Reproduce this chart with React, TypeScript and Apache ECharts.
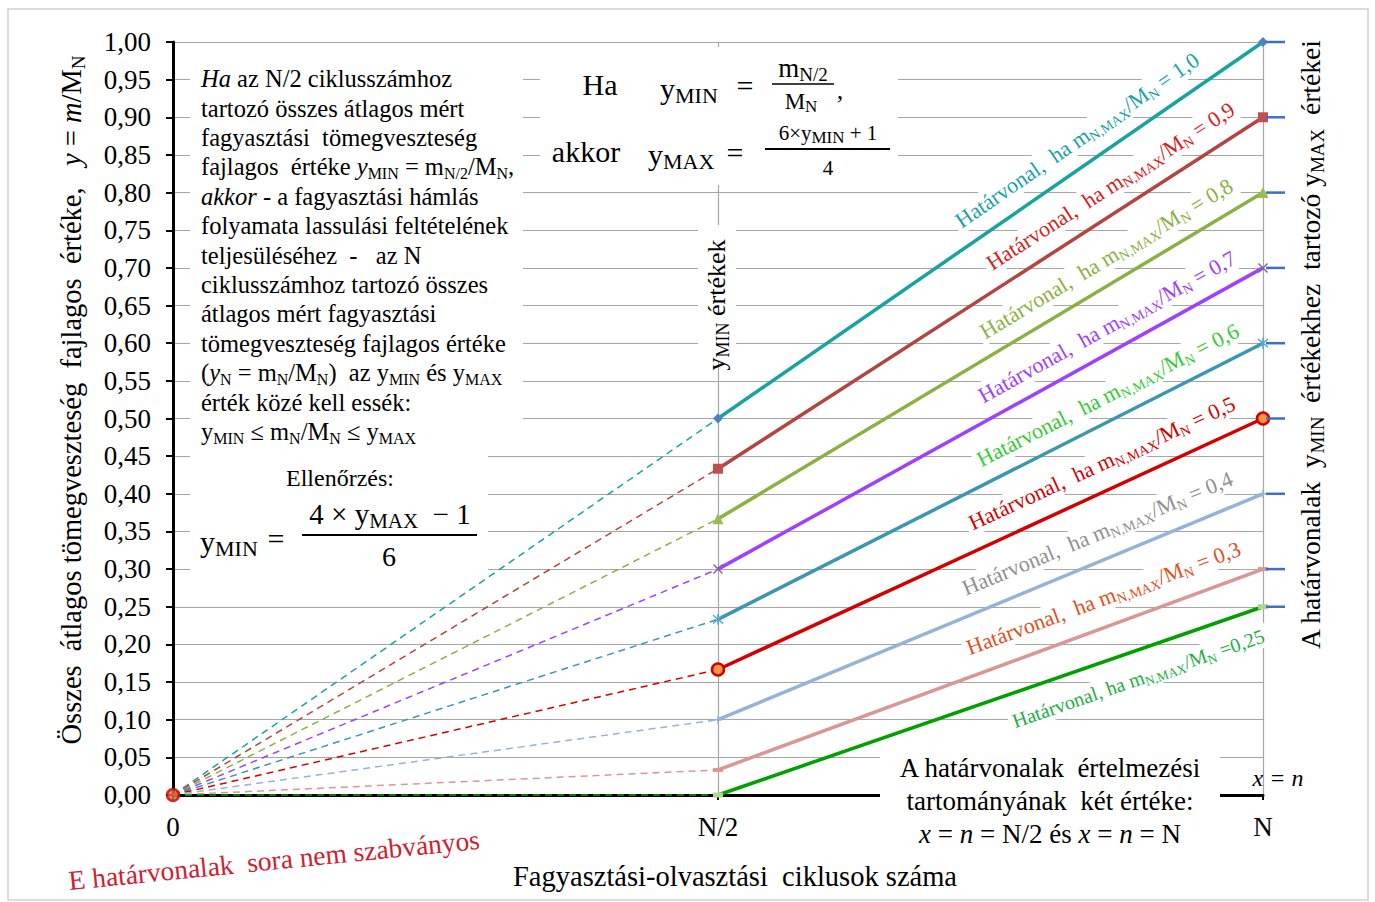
import React, { useEffect, useRef } from 'react';
import * as echarts from 'echarts';

// ---------- data ----------
const categories = ['0', 'N/2', 'N'];
const yMaxValues = [1.0, 0.9, 0.8, 0.7, 0.6, 0.5, 0.4, 0.3, 0.25];
const yMinValues = [0.5, 0.4333, 0.3667, 0.3, 0.2333, 0.1667, 0.1, 0.0333, 0];
const labelValues = ['1,0', '0,9', '0,8', '0,7', '0,6', '0,5', '0,4', '0,3', '0,25'];

// ---------- styles ----------
const F = '"Liberation Serif", "Times New Roman", serif';
const lineColors = ['#17a3a3', '#b5443f', '#8cb043', '#a040ff', '#3b96b5', '#d40000', '#95b3d7', '#d99694', '#00a000'];
const labelColors = ['#17a3a3', '#d42020', '#8cb043', '#a040ff', '#33cc33', '#d40000', '#909090', '#e05020', '#20b040'];
const X_PATH = 'path://M1,0L5,4L9,0L10,1L6,5L10,9L9,10L5,6L1,10L0,9L4,5L0,1Z';
const AST_PATH = 'path://M1,0L5,4L9,0L10,1L6,5L10,9L9,10L5,6L1,10L0,9L4,5L0,1Z M4.3,-1L5.7,-1L5.7,11L4.3,11Z';
const PLUS_PATH = 'path://M4,0L6,0L6,4L10,4L10,6L6,6L6,10L4,10L4,6L0,6L0,4L4,4Z';
const markers: any[] = [
  { symbol: 'diamond', size: 10, color: '#4f81bd' },
  { symbol: 'rect', size: 10, color: '#c0504d' },
  { symbol: 'triangle', size: 11, color: '#9bbb59' },
  { symbol: X_PATH, size: 10, color: '#8064a2' },
  { symbol: AST_PATH, size: 11, color: '#4bacc6' },
  { symbol: 'circle', size: 12, color: '#f79646', border: '#d40000', bw: 2.5 },
  { symbol: PLUS_PATH, size: 8, color: '#95b3d7' },
  { symbol: 'rect', size: [10, 4], color: '#d99694' },
  { symbol: 'rect', size: [10, 5], color: '#b5d38c' },
];
// label placement along each solid segment (fraction, perpendicular offset)
const labelT = [0.685, 0.745, 0.735, 0.735, 0.735, 0.725, 0.715, 0.725, 0.755];
const labelOff = [25, 25, 24, 24, 24, 27, 27, 28, -27];

function makeRich(size: number, family: string, color: string, subSize?: number) {
  const ss = subSize || Math.round(size * 0.66);
  return {
    i: { fontStyle: 'italic', fontSize: size, fontFamily: family, fill: color },
    s: { fontSize: ss, fontFamily: family, verticalAlign: 'bottom', fill: color },
    si: { fontSize: ss, fontFamily: family, fontStyle: 'italic', verticalAlign: 'bottom', fill: color },
  };
}

function txt(x: number, y: number, text: string, size: number, o: any = {}) {
  const color = o.color || '#000';
  const family = o.family || F;
  const style: any = {
    text,
    fontFamily: family,
    fontSize: size,
    fontStyle: o.italic ? 'italic' : 'normal',
    fill: color,
    align: o.align || 'center',
    verticalAlign: o.va || 'middle',
    lineHeight: o.lh || Math.round(size * 1.2),
    rich: makeRich(size, family, color, o.sub),
  };
  if (o.bg) { style.backgroundColor = o.bg; style.padding = o.pad; }
  return { type: 'text', x, y, z: o.z != null ? o.z : 5, rotation: o.rot || 0, silent: true, style };
}

function box(x: number, y: number, w: number, h: number) {
  return { type: 'rect', z: 1, silent: true, shape: { x, y, width: w, height: h }, style: { fill: '#fff' } };
}
function hline(x1: number, x2: number, y: number, w = 1.5, color = '#000', z = 5) {
  return { type: 'line', z, silent: true, shape: { x1, y1: y, x2, y2: y }, style: { stroke: color, lineWidth: w } };
}

const leftBlock = [
  '{i|Ha} az N/2 ciklusszámhoz',
  'tartozó összes átlagos mért',
  'fagyasztási  tömegveszteség',
  'fajlagos  értéke {i|y}{s|MIN} = m{s|N/2}/M{s|N},',
  '{i|akkor} - a fagyasztási hámlás',
  'folyamata lassulási feltételének',
  'teljesüléséhez  -   az N',
  'ciklusszámhoz tartozó összes',
  'átlagos mért fagyasztási',
  'tömegveszteség fajlagos értéke',
  '({i|y}{s|N} = m{s|N}/M{s|N})  az y{s|MIN} és y{s|MAX}',
  'érték közé kell essék:',
  'y{s|MIN} ≤ m{s|N}/M{s|N} ≤ y{s|MAX}',
].join('\n');

function staticGraphics() {
  return [
    { type: 'rect', z: 0, silent: true, shape: { x: 8, y: 9, width: 1360, height: 891 }, style: { fill: 'none', stroke: '#cfcfcf', lineWidth: 1.5 } },
    box(190, 62, 333, 386),
    txt(201, 64, leftBlock, 24.5, { align: 'left', va: 'top', lh: 29.4, sub: 16 }),
    box(540, 47, 358, 138),
    txt(600, 84, 'Ha', 30),
    txt(660, 88, 'y{s|MIN}', 30, { align: 'left', sub: 22 }),
    txt(745, 85, '=', 30),
    txt(803, 68, 'm{s|N/2}', 27, { sub: 19 }),
    hline(772, 834, 84),
    txt(801, 101, 'M{s|N}', 23, { sub: 17 }),
    txt(840, 90, ',', 26),
    txt(586, 151, 'akkor', 30),
    txt(648, 154, 'y{s|MAX}', 30, { align: 'left', sub: 22 }),
    txt(735, 152, '=', 30),
    txt(828, 133, '6×y{s|MIN} + 1', 21, { sub: 17 }),
    hline(765, 890, 149, 2),
    txt(828, 168, '4', 21),
    box(190, 448, 298, 132),
    txt(340, 478, 'Ellenőrzés:', 24),
    txt(200, 541, 'y{s|MIN}', 30, { align: 'left', sub: 22 }),
    txt(276, 538, '=', 30),
    txt(390, 514, '4 × y{s|MAX}  − 1', 29, { sub: 21 }),
    hline(302, 477, 535, 2),
    txt(389, 556, '6', 28),
    box(698, 225, 38, 137),
    txt(716, 305, 'y{s|MIN} értékek', 26, { rot: Math.PI / 2, sub: 18 }),
    txt(1310, 345, 'A határvonalak  y{s|MIN}  értékekhez  tartozó y{s|MAX}  értékei', 27.5, { rot: Math.PI / 2, sub: 19 }),
    txt(71, 400, 'Összes  átlagos tömegveszteség  fajlagos  értéke,   {i|y} = {i|m}/M{s|N}', 28.5, { rot: Math.PI / 2, sub: 19 }),
    txt(274, 860, 'E határvonalak  sora nem szabványos', 27.5, { rot: 0.1, color: '#d02030' }),
    txt(735, 876, 'Fagyasztási-olvasztási  ciklusok száma', 28.5),
    box(880, 752, 340, 98),
    txt(1050, 768, 'A határvonalak  értelmezési', 27),
    txt(1050, 801, 'tartományának  két értéke:', 27),
    txt(1050, 834, '{i|x} = {i|n} = N/2 és {i|x} = {i|n} = N', 27),
    txt(1278, 778, 'x = n', 24, { italic: true }),
  ];
}

function dynamicGraphics(chart: any) {
  const out: any[] = [];
  yMaxValues.forEach((ymax, i) => {
    const p1 = chart.convertToPixel({ xAxisIndex: 0, yAxisIndex: 0 }, [1, yMinValues[i]]);
    const p2 = chart.convertToPixel({ xAxisIndex: 0, yAxisIndex: 0 }, [2, ymax]);
    const a = Math.atan2(p1[1] - p2[1], p2[0] - p1[0]);
    const t = labelT[i];
    const px = p1[0] + t * (p2[0] - p1[0]);
    const py = p1[1] + t * (p2[1] - p1[1]);
    const off = labelOff[i];
    const cx = px - off * Math.sin(a);
    const cy = py - off * Math.cos(a);
    const last = i === yMaxValues.length - 1;
    const text = last
      ? `Határvonal, ha m{s|N,MAX}/M{s|N} =${labelValues[i]}`
      : `Határvonal,  ha m{s|N,MAX}/M{s|N} = ${labelValues[i]}`;
    out.push(txt(cx, cy, text, last ? 20 : 22, { rot: a, color: labelColors[i], sub: last ? 13 : 14, z: 1, bg: '#fff', pad: [0, 4] }));
    // blue tick to the right of the end point (polyline, drawn above everything)
    out.push({
      type: 'polyline', z: 20, silent: true,
      shape: { points: [[p2[0] + 3, p2[1]], [p2[0] + 22, p2[1]]] },
      style: { stroke: '#3f6fc0', lineWidth: 2.5, fill: null },
    });
  });
  return out;
}

function buildOption() {
  const series: any[] = [];
  yMaxValues.forEach((ymax, i) => {
    const ymin = yMinValues[i];
    const m = markers[i];
    series.push({
      type: 'line', data: [0, ymin, '-'], symbol: 'none', silent: true, clip: false, z: 2,
      lineStyle: { color: lineColors[i], width: 1.5, type: [7, 5] },
    });
    series.push({
      type: 'line', data: ['-', ymin, ymax], symbol: m.symbol, symbolSize: m.size, showSymbol: true,
      silent: true, clip: false, z: 3,
      itemStyle: { color: m.color, borderColor: m.border || m.color, borderWidth: m.bw || 0 },
      lineStyle: { color: lineColors[i], width: 3.5 },
    });
  });
  series.push({
    type: 'scatter', data: [[0, 0]], symbol: 'circle', symbolSize: 12, silent: true, clip: false, z: 4,
    itemStyle: { color: '#e46c3a', borderColor: '#d40000', borderWidth: 2.5 },
  });

  return {
    animation: false,
    backgroundColor: '#fff',
    grid: { left: 173, right: 112, top: 42, bottom: 107, containLabel: false },
    xAxis: {
      type: 'category', data: categories, boundaryGap: false, z: 0,
      axisLine: { lineStyle: { color: '#000', width: 3 } },
      axisTick: { show: true, alignWithLabel: true, length: 5, lineStyle: { color: '#000', width: 2 } },
      axisLabel: { fontFamily: F, fontSize: 27, color: '#000', margin: 18 },
      splitLine: { show: true, lineStyle: { color: '#a6a6a6', width: 1.2 } },
    },
    yAxis: {
      type: 'value', min: 0, max: 1, interval: 0.05, z: 0,
      axisLine: { show: true, lineStyle: { color: '#000', width: 3 } },
      axisTick: { show: true, length: 7, lineStyle: { color: '#000', width: 2 } },
      axisLabel: {
        fontFamily: F, fontSize: 27, color: '#000', margin: 22,
        formatter: (v: number) => v.toFixed(2).replace('.', ','),
      },
      splitLine: { show: true, lineStyle: { color: '#a6a6a6', width: 1.2 } },
    },
    series,
  };
}

export default function App() {
  const ref = useRef<HTMLDivElement>(null);
  useEffect(() => {
    const chart = echarts.init(ref.current!, null, { renderer: 'svg' });
    chart.setOption(buildOption());
    chart.setOption({ graphic: { elements: [...staticGraphics(), ...dynamicGraphics(chart)] } });
    return () => chart.dispose();
  }, []);
  return (
    <div
      ref={ref}
      style={{ position: 'fixed', left: 0, top: 0, width: 1375, height: 902, background: '#fff' }}
    />
  );
}
